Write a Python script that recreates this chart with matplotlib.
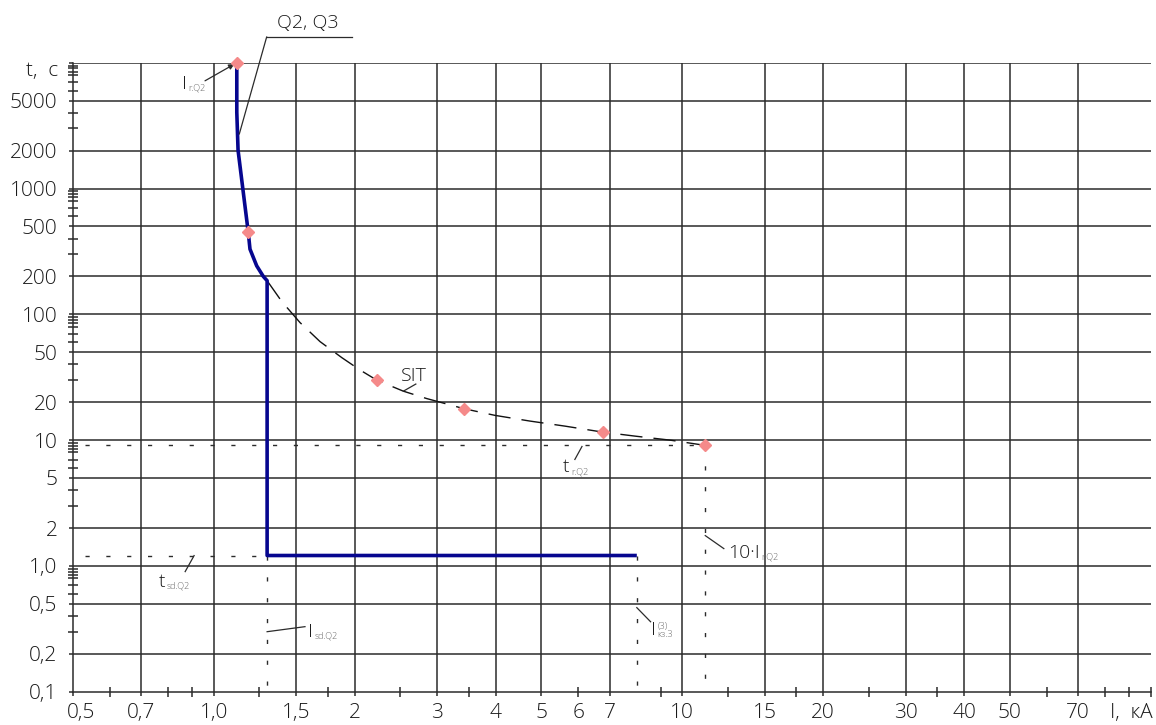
import matplotlib
matplotlib.use('Agg')
import matplotlib.pyplot as plt
from matplotlib.transforms import ScaledTranslation

plt.rcParams['font.family'] = ['Open Sans', 'DejaVu Sans']
plt.rcParams['font.weight'] = 300

# сетка и подписи осей
x_grid = [0.7, 1.0, 1.5, 2, 3, 4, 5, 7, 10, 15, 20, 30, 40, 50, 70]
y_grid = [0.2, 0.5, 1, 2, 5, 10, 20, 50, 100, 200, 500, 1000, 2000, 5000, 10000]
x_ticks = [0.5, 0.7, 1.0, 1.5, 2, 3, 4, 5, 7, 10, 15, 20, 30, 40, 50, 70]
x_labels = ['0,5', '0,7', '1,0', '1,5', '2', '3', '4', '5', '7', '10', '15', '20', '30', '40', '50', '70']
x_minor = [0.6, 0.8, 0.9, 1.25, 1.75, 2.5, 3.5, 6, 9, 12.5, 17.5, 25, 35, 60, 80, 90, 100]
y_ticks = [0.1, 0.2, 0.5, 1, 2, 5, 10, 20, 50, 100, 200, 500, 1000, 2000, 5000, 10000]
y_labels = ['0,1', '0,2', '0,5', '1,0', '2', '5', '10', '20', '50', '100', '200', '500', '1000', '2000', '5000', '']
y_minor = ([f * 10 ** k for k in range(0, 5) for f in (0.6, 0.7, 0.8, 0.85, 0.9, 0.95)]
           + [f * 10 ** k for k in range(-1, 4) for f in (3, 4)])

# характеристика Q2, Q3
q2_i = [1.12, 1.12, 1.127, 1.153, 1.185, 1.195, 1.235, 1.276, 1.30, 1.30, 8.0]
q2_t = [10000, 4045, 2014, 1015, 448, 330, 243, 200, 185, 1.21, 1.21]

# SIT - зависимая выдержка
sit_i = [1.30, 1.397, 1.528, 1.686, 1.876, 2.052, 2.228, 2.539, 2.848, 3.421,
         3.984, 4.732, 5.619, 6.763, 7.929, 9.415, 11.2]
sit_t = [185, 126.5, 86.0, 60.7, 45.3, 36.1, 30.0, 24.5, 21.4, 17.78,
         15.73, 14.17, 12.92, 11.58, 10.76, 10.0, 9.08]

# опорные точки
pts_i = [1.12, 1.185, 2.228, 3.421, 6.763, 11.2]
pts_t = [10000, 448, 30.0, 17.78, 11.58, 9.08]

i_r = 1.12
i_sd = 1.30
i_kz = 8.0
t_sd = 1.21
t_r = 9.08

ink = '#2b2b2b'
fig = plt.figure(figsize=(11.56, 7.25), dpi=100)
ax = fig.add_axes([0.0629, 0.0459, 0.9325, 0.8676])
ax.set_xscale('log')
ax.set_yscale('log')
ax.set_xlim(0.5, 100)
ax.set_ylim(0.1, 10000)

for x in x_grid:
    ax.axvline(x, color=ink, lw=1.1, zorder=1)
for y in y_grid:
    ax.axhline(y, color=ink, lw=1.1, zorder=1)

for s in ['top', 'right']:
    ax.spines[s].set_visible(False)
for s in ['left', 'bottom']:
    ax.spines[s].set_color(ink)
    ax.spines[s].set_linewidth(1.1)

ax.set_xticks(x_ticks, labels=x_labels)
ax.set_xticks(x_minor, labels=['6' if v == 6 else '' for v in x_minor], minor=True)
ax.set_yticks(y_ticks, labels=y_labels)
ax.set_yticks(y_minor, labels=[''] * len(y_minor), minor=True)
ax.tick_params(which='major', direction='out', length=3, width=1.1, color=ink,
               labelsize=15, labelcolor='#1a1a1a')
ax.tick_params(axis='x', which='major', pad=5)
ax.tick_params(axis='y', which='major', pad=8)
ax.tick_params(which='minor', direction='inout', length=7, width=1.1, color=ink,
               labelsize=15, labelcolor='#1a1a1a')
ax.tick_params(axis='x', which='minor', pad=4.5)

# первая подпись чуть правее начала оси
lbl = ax.get_xticklabels()[0]
lbl.set_transform(lbl.get_transform() + ScaledTranslation(6 / 72, 0, fig.dpi_scale_trans))

dot = (0, (3, 12))
ax.plot([0.53, 10 * i_r], [t_r, t_r], color=ink, lw=1, ls=dot, zorder=2)
ax.plot([0.53, i_sd], [t_sd, t_sd], color=ink, lw=1, ls=dot, zorder=2)
ax.plot([i_sd, i_sd], [t_sd, 0.1], color=ink, lw=1, ls=dot, zorder=2)
ax.plot([i_kz, i_kz], [t_sd, 0.1], color=ink, lw=1, ls=dot, zorder=2)
ax.plot([10 * i_r, 10 * i_r], [t_r, 0.1], color=ink, lw=1, ls=dot, zorder=2)

ax.plot(sit_i, sit_t, color='#111111', lw=1, ls=(0, (16, 8)), zorder=3)
ax.plot(q2_i, q2_t, color='#06068f', lw=2.6, zorder=4, solid_capstyle='butt')
ax.plot(pts_i, pts_t, ls='none', marker='D', ms=6, color='#f58a8a', zorder=5, clip_on=False)

txt = dict(fontsize=14, color='#1a1a1a', va='baseline', ha='left')
small = dict(fontsize=6.5, color='#666666', ha='left', textcoords='offset points')
leader = dict(color=ink, lw=0.9, clip_on=False, zorder=6)


def note(x, y, main, low, up=None):
    t = ax.text(x, y, main, **txt)
    ax.annotate(low, xy=(1, 0), xycoords=t, xytext=(1, 0), va='bottom', **small)
    if up:
        ax.annotate(up, xy=(1, 1), xycoords=t, xytext=(1, -1), va='top', **small)


# Q2, Q3
ax.text(1.59, 20800, 'Q2, Q3', fontsize=14, color='#1a1a1a', ha='center', va='center',
        clip_on=False)
ax.plot([1.297, 1.97], [16000, 16000], **leader)
ax.plot([1.297, 1.134], [16000, 2716], **leader)

# I r.Q2
note(0.855, 6200, 'I', 'r.Q2')
ax.annotate('', xy=(i_r, 10000), xytext=(0.958, 7180),
            arrowprops=dict(arrowstyle='-|>', color=ink, lw=0.9, mutation_scale=8,
                            shrinkA=0, shrinkB=2))

# SIT
ax.text(2.51, 29.3, 'SIT', **txt)
ax.plot([2.70, 2.54], [27.9, 24.5], **leader)

# t r.Q2
note(5.565, 5.53, 't', 'r.Q2')
ax.plot([5.90, 6.11], [7.02, 8.9], **leader)

# t sd.Q2
note(0.764, 0.684, 't', 'sd.Q2')
ax.plot([0.869, 0.908], [0.901, 1.208], **leader)

# I sd.Q2
note(1.589, 0.2735, 'I', 'sd.Q2')
ax.plot([i_sd, 1.566], [0.30, 0.329], **leader)

# I кз.3 (3)
note(8.58, 0.284, 'I', 'кз.3', up='(3)')
ax.plot([i_kz, 8.56], [0.466, 0.360], **leader)

# 10 I r.Q2
note(12.52, 1.165, '10·I', 'r.Q2')
ax.plot([10 * i_r, 12.27], [1.742, 1.373], **leader)

# обозначения осей
ax.text(-0.013, 8600, 't,  с', transform=ax.get_yaxis_transform(), fontsize=15,
        color='#1a1a1a', ha='right', va='center')
ax.text(1.002, -0.018, 'I,  кА', transform=ax.transAxes, fontsize=15,
        color='#1a1a1a', ha='right', va='top')

fig.savefig('out.png', dpi=100)
